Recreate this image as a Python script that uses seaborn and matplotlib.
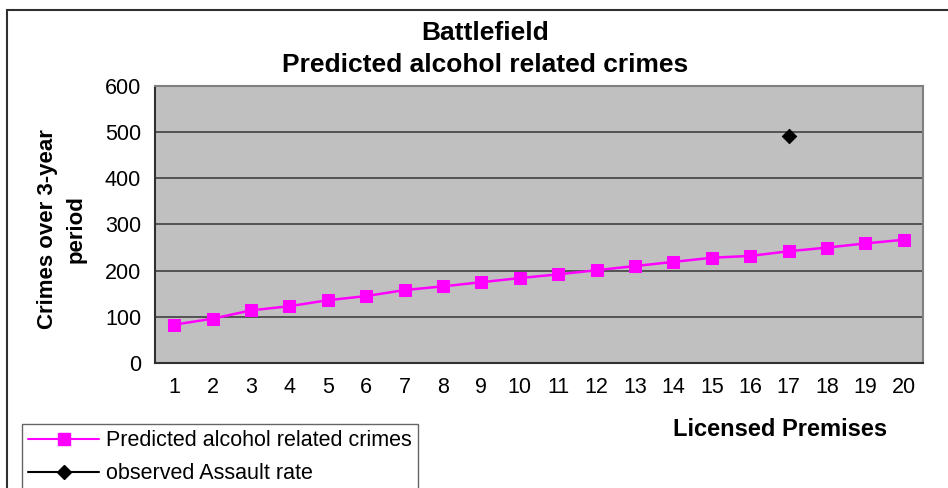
import numpy as np
import pandas as pd
import seaborn as sns
import matplotlib.pyplot as plt
from matplotlib.patches import Rectangle
from matplotlib.lines import Line2D

# === Data ===
premises = list(range(1, 21))
predicted = [83, 96, 114, 123, 136, 145, 158, 166, 175, 184,
             192, 201, 210, 219, 228, 232, 242, 250, 259, 267]
observed_x = [17]
observed_y = [491]

df = pd.DataFrame({"premises": premises, "predicted": predicted})
obs = pd.DataFrame({"premises": observed_x, "observed": observed_y})

sns.set_style("white")
plt.rcParams["font.family"] = ["Liberation Sans", "DejaVu Sans"]
plt.rcParams["text.color"] = "black"
plt.rcParams["xtick.color"] = "black"
plt.rcParams["ytick.color"] = "black"

fig = plt.figure(figsize=(9.48, 4.88), dpi=100)
ax = fig.add_axes([155 / 948, 1 - 363 / 488, (923 - 155) / 948, (363 - 86) / 488])
ax.set_facecolor("#c0c0c0")

# gridlines
ax.set_ylim(0, 600)
ax.set_yticks(range(0, 601, 100))
ax.yaxis.grid(True, color="#404040", linewidth=1.2)
ax.set_axisbelow(True)

sns.lineplot(data=df, x="premises", y="predicted", ax=ax, color="#ff00ff",
             marker="s", markersize=9, markeredgecolor="#ff00ff", linewidth=1.8,
             legend=False)
sns.scatterplot(data=obs, x="premises", y="observed", ax=ax, color="black",
                marker="D", s=55, edgecolor="black", legend=False, zorder=5)

ax.set_xlim(0.5, 20.5)
ax.set_xticks(premises)
ax.set_xticklabels([str(p) for p in premises], fontsize=15.5)
ax.set_xticks(np.arange(0.5, 21, 1), minor=True)
ax.tick_params(axis="x", which="major", length=0, pad=10)
ax.tick_params(axis="x", which="minor", length=6, width=1, color="black", direction="out")
ax.tick_params(axis="y", length=6, width=1, color="black", direction="out", labelsize=15.5, pad=4)
ax.set_xlabel("")
ax.set_ylabel("")

for side in ["left", "bottom"]:
    ax.spines[side].set_color("#303030")
    ax.spines[side].set_linewidth(1.5)
for side in ["top", "right"]:
    ax.spines[side].set_color("#808080")
    ax.spines[side].set_linewidth(1.5)

# titles / labels
fig.text(0.512, 1 - 33 / 488, "Battlefield", ha="center", va="center",
         fontsize=19, fontweight="bold")
fig.text(0.512, 1 - 65 / 488, "Predicted alcohol related crimes", ha="center",
         va="center", fontsize=19, fontweight="bold")
fig.text(780 / 948, 1 - 429 / 488, "Licensed Premises", ha="center", va="center",
         fontsize=17, fontweight="bold")
fig.text(62 / 948, 1 - 229 / 488, "Crimes over 3-year\nperiod", ha="center",
         va="center", rotation=90, fontsize=16, fontweight="bold", linespacing=1.45)

# figure border (Excel chart area)
fig.patches.append(Rectangle((7 / 948, -0.1), 1.1, 1 - 10 / 488 + 0.1,
                             transform=fig.transFigure, fill=False,
                             edgecolor="#303030", linewidth=1.5))

# legend
handles = [
    Line2D([0], [0], color="#ff00ff", marker="s", markersize=9, linewidth=1.5),
    Line2D([0], [0], color="black", marker="D", markersize=7, linewidth=1.5),
]
leg = fig.legend(handles, ["Predicted alcohol related crimes", "observed Assault rate"],
                 loc="upper left", bbox_to_anchor=(22 / 948, 1 - 424 / 488),
                 fontsize=15.5, frameon=True, fancybox=False, handlelength=3.3,
                 borderpad=0.3, labelspacing=0.55, handletextpad=0.3,
                 borderaxespad=0)
leg.get_frame().set_edgecolor("#404040")
leg.get_frame().set_linewidth(1.0)

fig.savefig("out.png", dpi=100)
